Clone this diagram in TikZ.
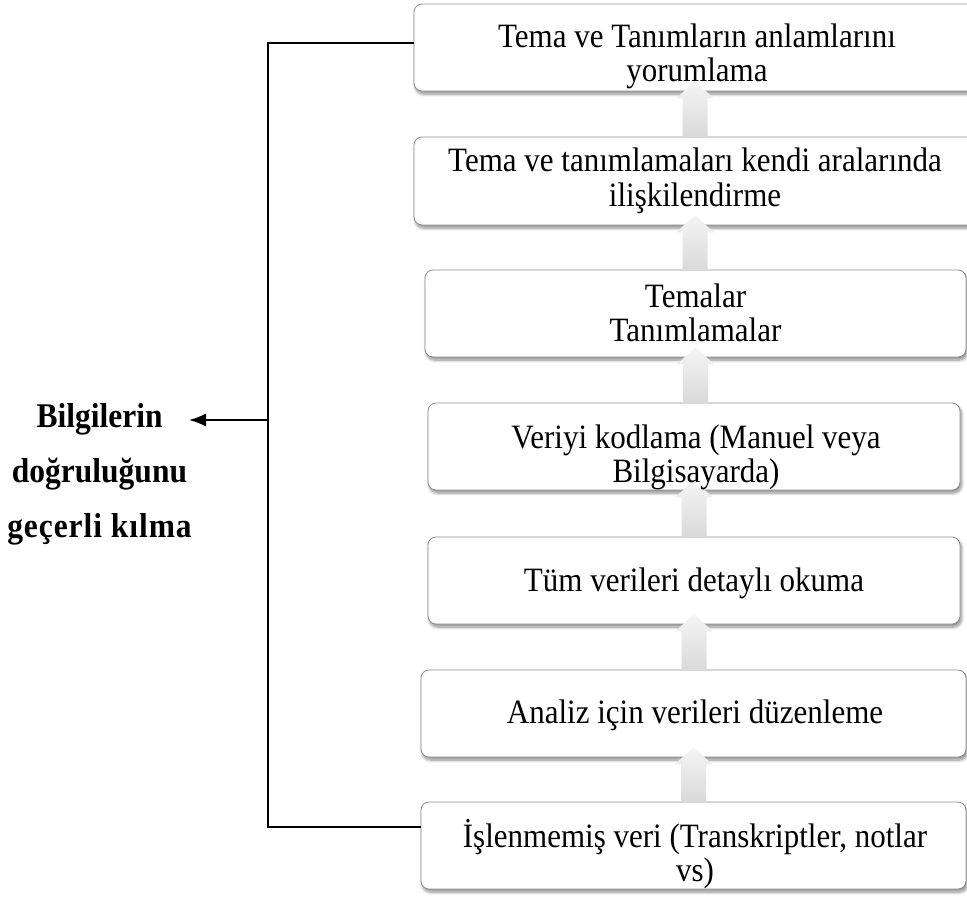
\documentclass[tikz,border=0pt]{standalone}
\usepackage{fontspec}
\setmainfont{Liberation Serif}
\usetikzlibrary{calc,arrows.meta,shadows.blur}

\tikzset{
  stagebox/.style={rectangle, rounded corners=8pt, draw=black!45, line width=0.8pt,
    fill=white, inner sep=0pt,
    blur shadow={shadow xshift=1.5pt, shadow yshift=-3pt, shadow blur radius=3pt,
      shadow blur steps=8, shadow opacity=45}},
  stagetext/.style={align=center, anchor=north, inner sep=0pt,
    yscale=1.1, transform shape,
    font=\fontsize{31}{31.5}\selectfont},
  uparrow/.style={draw=none, top color=black!4, bottom color=black!15},
  bracket/.style={draw=black, line width=1.6pt},
  sidelabel/.style={align=center, anchor=north, inner sep=0pt,
    yscale=1.1, transform shape,
    font=\fontsize{31.5}{50}\selectfont\bfseries},
}

\begin{document}
\begin{tikzpicture}[x=1pt, y=-1pt]
\useasboundingbox (0,0) rectangle (967,922);

% stage boxes, from the top step down to the raw data
\node[stagebox, minimum width=562pt, minimum height=87pt] (b1) at (695,47.5) {};
\node[stagebox, minimum width=562pt, minimum height=88pt] (b2) at (695,181) {};
\node[stagebox, minimum width=541pt, minimum height=87pt] (b3) at (695.5,313.5) {};
\node[stagebox, minimum width=532pt, minimum height=87pt] (b4) at (694,446.5) {};
\node[stagebox, minimum width=532pt, minimum height=87pt] (b5) at (694,580.5) {};
\node[stagebox, minimum width=545pt, minimum height=87pt] (b6) at (693.5,713.5) {};
\node[stagebox, minimum width=545pt, minimum height=87pt] (b7) at (693.5,845.5) {};

% block arrows pointing from each box up to the next one
\foreach \lo/\up in {b2/b1, b3/b2, b4/b3, b5/b4, b6/b5, b7/b6} {
  \path[uparrow] let \p1=(\up.south), \p2=(\lo.north) in
    (\x1-12.5pt,\y2-1pt) -- (\x1-12.5pt,\y1-7pt) -- (\x1-19pt,\y1-7pt)
    -- (\x1,\y1+10pt) -- (\x1+19pt,\y1-7pt) -- (\x1+12.5pt,\y1-7pt)
    -- (\x1+12.5pt,\y2-1pt) -- cycle;
}

% box texts
\node[stagetext] (t1) at (697,22.75) {\strut Tema ve Tanımların anlamlarını\\\strut yorumlama};
\node[stagetext] (t2) at (695,147.5) {\strut Tema ve tanımlamaları kendi aralarında\\\strut ilişkilendirme};
\node[stagetext] (t3) at (695.5,282.75) {\strut Temalar\\\strut Tanımlamalar};
\node[stagetext] (t4) at (696,423.75) {\strut Veriyi kodlama (Manuel veya\\\strut Bilgisayarda)};
\node[stagetext] (t5) at (694,566.75) {\strut Tüm verileri detaylı okuma};
\node[stagetext] (t6) at (695,698.75) {\strut Analiz için verileri düzenleme};
\node[stagetext] (t7) at (695,818.75) {\strut İşlenmemiş veri (Transkriptler, notlar\\\strut vs)};

% validation bracket on the left
\coordinate (topjoin) at (268,43);
\coordinate (lowjoin) at (268,827);
\coordinate (midjoin) at (268,420);
\coordinate (verifytip) at (189,420);
\draw[bracket] (b1.west |- topjoin) -- (topjoin) -- (lowjoin) -- (b7.west |- lowjoin);
\draw[bracket, -{Latex[length=17pt,width=13pt]}] (midjoin) -- (verifytip);

\node[sidelabel] (verify) at (99.5,388.5)
  {\strut Bilgilerin\\\strut doğruluğunu\\\strut {\addfontfeature{LetterSpace=3}geçerli kılma}};
\end{tikzpicture}
\end{document}
